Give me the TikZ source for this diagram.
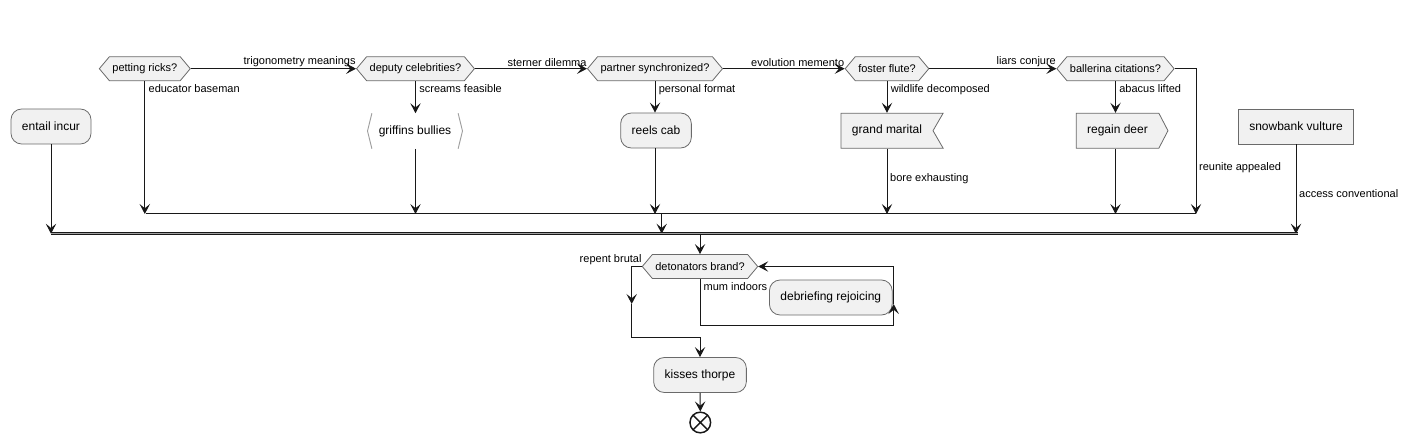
\documentclass[tikz,border=0pt]{standalone}
\usepackage{fontspec}
\setmainfont{Liberation Sans}
\usetikzlibrary{shapes.symbols,arrows.meta,calc}
\definecolor{nodefill}{HTML}{F1F1F1}
\definecolor{nodeborder}{HTML}{6A6A6A}
\definecolor{linec}{HTML}{181818}
\definecolor{brkc}{HTML}{A0A0A0}
\begin{document}
\begin{tikzpicture}[x=0.75pt,y=-0.75pt,
  font=\fontsize{9}{10}\selectfont,
  act/.style={draw=nodeborder, fill=nodefill, rounded corners=8pt, minimum height=26.25pt, inner xsep=8.25pt, inner ysep=0pt, line width=0.6pt},
  plainbox/.style={draw=nodeborder, fill=nodefill, minimum height=26.25pt, inner xsep=8.25pt, inner ysep=0pt, line width=0.6pt},
  barebox/.style={minimum height=26.25pt, inner xsep=8.25pt, inner ysep=0pt},
  dec/.style={signal, signal to=west and east, signal pointer angle=100, draw=nodeborder, fill=nodefill, minimum height=18pt, inner xsep=2.25pt, inner ysep=0pt, line width=0.6pt, font=\fontsize{8.25}{9}\selectfont},
  sendbox/.style={signal, signal to=east, signal pointer angle=125, draw=nodeborder, fill=nodefill, minimum height=26.25pt, inner xsep=8.25pt, inner ysep=0pt, line width=0.6pt},
  recvbox/.style={signal, signal to=nowhere, signal from=east, signal pointer angle=120, draw=nodeborder, fill=nodefill, minimum height=26.25pt, inner xsep=8.25pt, inner ysep=0pt, line width=0.6pt},
  lbl/.style={font=\fontsize{8.25}{9}\selectfont, inner sep=1pt},
  blbl/.style={lbl, anchor=north west, xshift=1.5pt, yshift=-1.2pt},
  tlbl/.style={lbl, anchor=south east, inner xsep=0pt},
  conn/.style={draw=linec, line width=0.75pt},
  arr/.style={conn, -{Stealth[length=7.5pt,width=7.8pt,inset=3.2pt]}},
  barline/.style={draw=linec, line width=0.55pt, double=brkc, double distance=0.7pt},
  brkline/.style={draw=brkc, line width=0.7pt},
  endc/.style={circle, draw=linec, fill=white, line width=1.1pt, minimum size=15.5pt, inner sep=0pt,
    path picture={\draw[linec, line width=1.1pt] (path picture bounding box.north west) -- (path picture bounding box.south east) (path picture bounding box.north east) -- (path picture bounding box.south west);}},
]
\useasboundingbox (0,0) rectangle (1411,442);

% top decisions
\node[dec] (d1) at (144.8,68.7) {petting ricks?};
\node[dec] (d2) at (415.5,68.7) {deputy celebrities?};
\node[dec] (d3) at (655,68.7) {partner synchronized?};
\node[dec] (d4) at (887,68.7) {foster flute?};
\node[dec] (d5) at (1115.5,68.7) {ballerina citations?};

% activities
\node[act] (a0) at (51,126.5) {entail incur};
\node[barebox] (g) at (415,131) {griffins bullies};
\draw[brkline] ([xshift=3.3pt]g.north west) -- (g.west) -- ([xshift=3.3pt]g.south west);
\draw[brkline] ([xshift=-3.3pt]g.north east) -- (g.east) -- ([xshift=-3.3pt]g.south east);
\node[act] (r) at (656,130.5) {reels cab};
\node[recvbox] (gm) at (887,130.7) {grand marital};
\node[sendbox] (rd) at (1117.5,130.7) {regain deer};
\node[plainbox] (sv) at (1296,126.5) {snowbank vulture};

% bars
\coordinate (b1l) at (145.7,214);
\coordinate (b1r) at (1196,214);
\coordinate (b2l) at (51,233.7);
\coordinate (b2r) at (1297.5,233.7);
\coordinate (m1) at (661.7,214);
\coordinate (m2) at (700,233.7);

% top row connectors
\draw[arr] (d1.east) -- (d2.west) node[tlbl, pos=1] {trigonometry meanings};
\draw[arr] (d2.east) -- (d3.west) node[tlbl, pos=1] {sterner dilemma};
\draw[arr] (d3.east) -- (d4.west) node[tlbl, pos=1] {evolution memento};
\draw[arr] (d4.east) -- (d5.west) node[tlbl, pos=1] {liars conjure};

\draw[arr] (d1.south) -- (d1.south |- b1l) node[blbl, pos=0] {educator baseman};
\draw[arr] (d2.south) -- (d2.south |- g.north) node[blbl, pos=0] {screams feasible};
\draw[arr] (d2.south |- g.south) -- (d2.south |- b1l);
\draw[arr] (d3.south) -- (d3.south |- r.north) node[blbl, pos=0] {personal format};
\draw[arr] (d3.south |- r.south) -- (d3.south |- b1l);
\draw[arr] (d4.south) -- (d4.south |- gm.north) node[blbl, pos=0] {wildlife decomposed};
\draw[arr] (d4.south |- gm.south) -- (d4.south |- b1l) node[lbl, pos=0.46, anchor=west, xshift=1pt] {bore exhausting};
\draw[arr] (d5.south) -- (d5.south |- rd.north) node[blbl, pos=0] {abacus lifted};
\draw[arr] (d5.south |- rd.south) -- (d5.south |- b1l);
\draw[arr] (d5.east) -| (b1r) node[lbl, pos=0.84, anchor=west, xshift=1pt] {reunite appealed};

\draw[conn] (b1l) -- (b1r);
\draw[arr] (m1) -- (m1 |- b2l);

\draw[arr] (a0.south) -- (a0.south |- b2l);
\draw[arr] (sv.south) -- (sv.south |- b2l) node[lbl, pos=0.55, anchor=west, xshift=1pt] {access conventional};
\draw[barline] (b2l) -- (b2r);

% lower part
\node[dec] (db) at (700,266.5) {detonators brand?};
\node[act] (dr) at (830.8,297.5) {debriefing rejoicing};
\node[act] (kt) at (700,375) {kisses thorpe};
\node[endc] (e) at (700.3,422.5) {};

\draw[arr] (m2) -- (db.north);

\coordinate (lmid) at (631.7,304);
\coordinate (lj) at (700,337.3);
\draw[arr] (db.west) -| (lmid);
\node[tlbl] (rb) at (db.west) {repent brutal};
\draw[conn] (lmid) |- (lj);
\draw[arr] (lj) -- (kt.north);

\coordinate (rc) at (893.7,325.3);
\coordinate (rmid) at (893.7,304);
\draw[conn] (db.south) |- (rc);
\node[blbl] (mi) at (db.south) {mum indoors};
\draw[arr] (rc) -- (rmid);
\draw[arr] (rmid) |- (db.east);

\draw[arr] (kt.south) -- (e.north);
\end{tikzpicture}
\end{document}
